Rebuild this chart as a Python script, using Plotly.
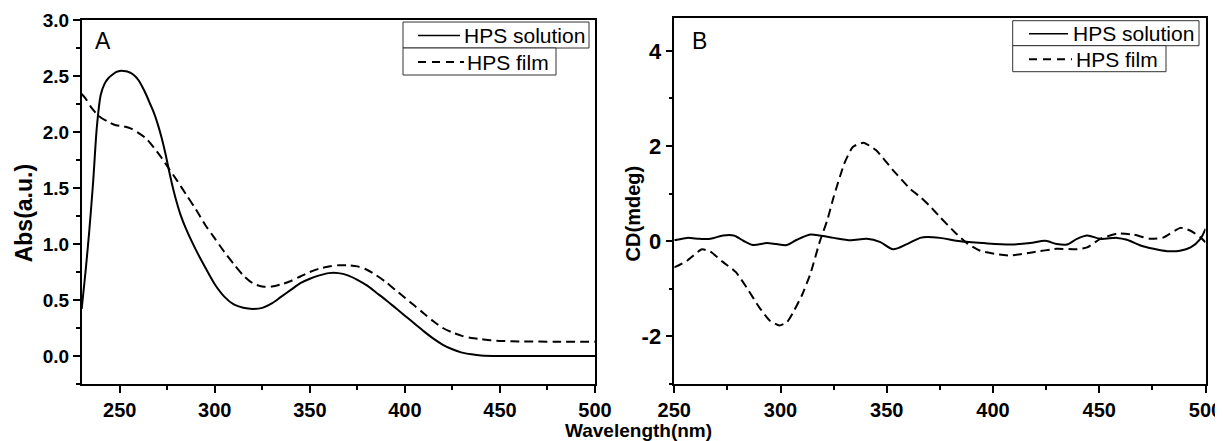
import plotly.graph_objects as go

# ---------------- Data ----------------
# Panel A: UV-Vis absorbance
wl_a_solution = [230, 232, 234, 236, 238, 240, 242, 244, 246, 248, 250, 252, 254, 256, 258, 260,
                 262, 264, 266, 268, 270, 272, 274, 276, 278, 280, 282, 285, 290, 295, 300, 305,
                 310, 315, 320, 325, 330, 335, 340, 345, 350, 355, 360, 365, 370, 375, 380, 385,
                 390, 395, 400, 405, 410, 415, 420, 425, 430, 435, 440, 450, 460, 470, 480, 490, 500]
abs_a_solution = [0.42, 0.75, 1.12, 1.55, 2.05, 2.33, 2.43, 2.48, 2.51, 2.535, 2.545, 2.545, 2.54,
                  2.525, 2.50, 2.46, 2.40, 2.33, 2.25, 2.17, 2.07, 1.95, 1.81, 1.65, 1.50, 1.37,
                  1.26, 1.13, 0.95, 0.79, 0.64, 0.53, 0.46, 0.43, 0.42, 0.43, 0.47, 0.53, 0.59,
                  0.65, 0.69, 0.72, 0.74, 0.74, 0.72, 0.68, 0.63, 0.565, 0.50, 0.43, 0.36, 0.29,
                  0.22, 0.155, 0.10, 0.06, 0.03, 0.015, 0.005, 0.0, 0.0, 0.0, 0.0, 0.0, 0.0]

wl_a_film = [230, 232, 235, 238, 240, 244, 248, 252, 256, 260, 264, 268, 272, 276, 280, 285, 290,
             295, 300, 305, 310, 315, 320, 325, 330, 335, 340, 345, 350, 355, 360, 365, 370, 375,
             380, 385, 390, 395, 400, 405, 410, 415, 420, 425, 430, 435, 440, 445, 450, 460, 480, 500]
abs_a_film = [2.34, 2.30, 2.22, 2.16, 2.13, 2.09, 2.06, 2.05, 2.03, 1.99, 1.94, 1.86, 1.77, 1.67,
              1.57, 1.44, 1.31, 1.17, 1.05, 0.93, 0.82, 0.72, 0.65, 0.62, 0.62, 0.64, 0.67, 0.71,
              0.75, 0.78, 0.80, 0.81, 0.81, 0.80, 0.77, 0.72, 0.66, 0.59, 0.52, 0.45, 0.38, 0.31,
              0.25, 0.21, 0.18, 0.16, 0.15, 0.14, 0.135, 0.13, 0.128, 0.128]

# Panel B: circular dichroism
wl_b_solution = [250, 256, 262, 267, 273, 278, 282.5, 287, 293.5, 298, 303, 307.7, 314, 318.6, 325,
                 333, 340.6, 347, 353, 359.5, 365.7, 369, 375, 384.6, 395.6, 408, 417.5, 424.6, 430,
                 434.8, 439.5, 444.3, 450.5, 458.4, 463, 469.4, 475.6, 482, 488, 493, 497.6, 500]
cd_b_solution = [0.02, 0.07, 0.05, 0.05, 0.12, 0.12, 0.01, -0.08, -0.04, -0.06, -0.08, 0.03, 0.14,
                 0.12, 0.07, 0.02, 0.05, -0.02, -0.17, -0.06, 0.07, 0.09, 0.07, 0.0, -0.04, -0.07,
                 -0.04, 0.01, -0.06, -0.07, 0.05, 0.12, 0.05, 0.07, 0.03, -0.09, -0.16, -0.21,
                 -0.20, -0.13, 0.05, 0.26]

wl_b_film = [250, 251, 256, 263, 267, 273, 279, 284, 290, 295, 299.5, 303, 306, 310, 314, 318.6,
             322, 325, 330, 334, 339, 345, 353, 361, 366, 370, 375, 382, 388, 394, 403, 408, 419,
             430, 439.5, 444.3, 450.5, 458.4, 466, 474, 480.3, 488.2, 493, 497.6, 500]
cd_b_film = [-0.55, -0.53, -0.41, -0.17, -0.22, -0.44, -0.65, -0.97, -1.39, -1.67, -1.77, -1.70,
             -1.49, -1.14, -0.69, 0.01, 0.44, 0.93, 1.63, 1.98, 2.07, 1.91, 1.49, 1.10, 0.92, 0.75,
             0.51, 0.19, -0.05, -0.20, -0.28, -0.30, -0.23, -0.16, -0.17, -0.13, 0.05, 0.16, 0.14,
             0.05, 0.08, 0.28, 0.22, 0.08, -0.02]

series_names = ["HPS solution", "HPS film"]
panel_labels = ["A", "B"]
x_title = "Wavelength(nm)"
y_titles = ["Abs(a.u.)", "CD(mdeg)"]
x_tick_vals = [250, 300, 350, 400, 450, 500]
x_tick_text = ["250", "300", "350", "400", "450", "500"]
y_a_tick_vals = [0.0, 0.5, 1.0, 1.5, 2.0, 2.5, 3.0]
y_a_tick_text = ["0.0", "0.5", "1.0", "1.5", "2.0", "2.5", "3.0"]
y_b_tick_vals = [-2, 0, 2, 4]
y_b_tick_text = ["-2", "0", "2", "4"]

# ---------------- Figure ----------------
W, H = 1223, 441
OFF = 8  # page body margin offset
FONT = "Liberation Sans, Arial, sans-serif"


def px(x):
    return (x - OFF) / W


def py(y):
    return 1 - (y - OFF) / H


def bold(labels):
    return ["<b>%s</b>" % t for t in labels]


fig = go.Figure()
dash_style = "9px,5px"

fig.add_trace(go.Scatter(x=wl_a_solution, y=abs_a_solution, mode="lines", name=series_names[0],
                         line=dict(color="black", width=2, shape="spline", smoothing=0.8),
                         xaxis="x", yaxis="y", showlegend=False))
fig.add_trace(go.Scatter(x=wl_a_film, y=abs_a_film, mode="lines", name=series_names[1],
                         line=dict(color="black", width=2, dash=dash_style, shape="spline", smoothing=0.8),
                         xaxis="x", yaxis="y", showlegend=False))
fig.add_trace(go.Scatter(x=wl_b_solution, y=cd_b_solution, mode="lines", name=series_names[0],
                         line=dict(color="black", width=2, shape="spline", smoothing=0.8),
                         xaxis="x2", yaxis="y2", showlegend=False))
fig.add_trace(go.Scatter(x=wl_b_film, y=cd_b_film, mode="lines", name=series_names[1],
                         line=dict(color="black", width=2, dash=dash_style, shape="spline", smoothing=0.5),
                         xaxis="x2", yaxis="y2", showlegend=False))

axis_common = dict(showline=True, linecolor="black", linewidth=1.5, mirror=True,
                   ticks="outside", ticklen=7, tickwidth=1.5, tickcolor="black",
                   showgrid=False, zeroline=False, automargin=False)
minor_common = dict(ticks="outside", ticklen=4, tickwidth=1.5, tickcolor="black")

ybot, ytop_a, ytop_b = 384, 20, 17.5

fig.update_layout(
    width=W, height=H,
    margin=dict(l=0, r=0, t=0, b=0),
    paper_bgcolor="white", plot_bgcolor="white",
    xaxis=dict(domain=[px(81.7), px(595)], range=[230, 500],
               tickvals=x_tick_vals, ticktext=bold(x_tick_text),
               minor=dict(dtick=25, tick0=0, **minor_common),
               tickfont=dict(family=FONT, size=20, color="black"),
               anchor="y", **axis_common),
    yaxis=dict(domain=[py(ybot), py(ytop_a)], range=[-0.25, 3.0],
               tickvals=y_a_tick_vals, ticktext=bold(y_a_tick_text),
               minor=dict(dtick=0.25, tick0=0, **minor_common),
               tickfont=dict(family=FONT, size=19, color="black"),
               anchor="x", **axis_common),
    xaxis2=dict(domain=[px(674.3), px(1205.5)], range=[250, 500],
                tickvals=x_tick_vals, ticktext=bold(x_tick_text),
                minor=dict(dtick=25, tick0=0, **minor_common),
                tickfont=dict(family=FONT, size=20, color="black"),
                anchor="y2", **axis_common),
    yaxis2=dict(domain=[py(ybot), py(ytop_b)], range=[-3, 4.7],
                tickvals=y_b_tick_vals, ticktext=bold(y_b_tick_text),
                minor=dict(dtick=1, tick0=0, **minor_common),
                tickfont=dict(family=FONT, size=22, color="black"),
                anchor="x2", **axis_common),
)

annotations = [
    dict(text=panel_labels[0], x=px(93), y=py(40.5), xanchor="left", yanchor="middle",
         font=dict(family=FONT, size=23, color="black")),
    dict(text=panel_labels[1], x=px(690), y=py(41), xanchor="left", yanchor="middle",
         font=dict(family=FONT, size=23, color="black")),
    dict(text="<b>%s</b>" % y_titles[0], x=px(24.3), y=py(213), textangle=-90, xanchor="center", yanchor="middle",
         font=dict(family=FONT, size=23, color="black")),
    dict(text="<b>%s</b>" % y_titles[1], x=px(633.4), y=py(213), textangle=-90, xanchor="center", yanchor="middle",
         font=dict(family=FONT, size=20, color="black")),
    dict(text="<b>%s</b>" % x_title, x=px(638), y=py(430), xanchor="center", yanchor="middle",
         font=dict(family=FONT, size=19, color="black")),
]

shapes = []

# Origin-style stacked legend boxes for each panel
legend_specs = [
    # (box_left, box_right_top, box_right_bottom, y0, ymid, y1, line_x0, line_x1, text_x)
    (403, 589, 556, 22, 48, 75, 418, 460, 462),
    (1012.7, 1199, 1166, 20.7, 45.7, 71.7, 1029, 1068, 1071),
]
for (bl, brt, brb, y0, ym, y1, lx0, lx1, tx) in legend_specs:
    shapes.append(dict(type="rect", xref="paper", yref="paper", x0=px(bl), x1=px(brt), y0=py(y0), y1=py(ym),
                       line=dict(color="#333333", width=1), fillcolor="white", layer="above"))
    shapes.append(dict(type="rect", xref="paper", yref="paper", x0=px(bl), x1=px(brb), y0=py(ym), y1=py(y1),
                       line=dict(color="#333333", width=1), fillcolor="white", layer="above"))
    yc1 = (y0 + ym) / 2 + 0.5
    yc2 = (ym + y1) / 2 + 0.5
    shapes.append(dict(type="line", xref="paper", yref="paper", x0=px(lx0), x1=px(lx1), y0=py(yc1), y1=py(yc1),
                       line=dict(color="black", width=1.5), layer="above"))
    shapes.append(dict(type="line", xref="paper", yref="paper", x0=px(lx0), x1=px(lx1 + 4), y0=py(yc2), y1=py(yc2),
                       line=dict(color="black", width=2, dash="8px,6px"), layer="above"))
    annotations.append(dict(text=series_names[0], x=px(tx), y=py(yc1), xanchor="left", yanchor="middle",
                            font=dict(family=FONT, size=21, color="black")))
    annotations.append(dict(text=series_names[1], x=px(tx + 3), y=py(yc2), xanchor="left", yanchor="middle",
                            font=dict(family=FONT, size=21, color="black")))

for a in annotations:
    a.setdefault("xref", "paper")
    a.setdefault("yref", "paper")
    a.setdefault("showarrow", False)

fig.update_layout(annotations=annotations, shapes=shapes)

fig.write_html("out.html")
